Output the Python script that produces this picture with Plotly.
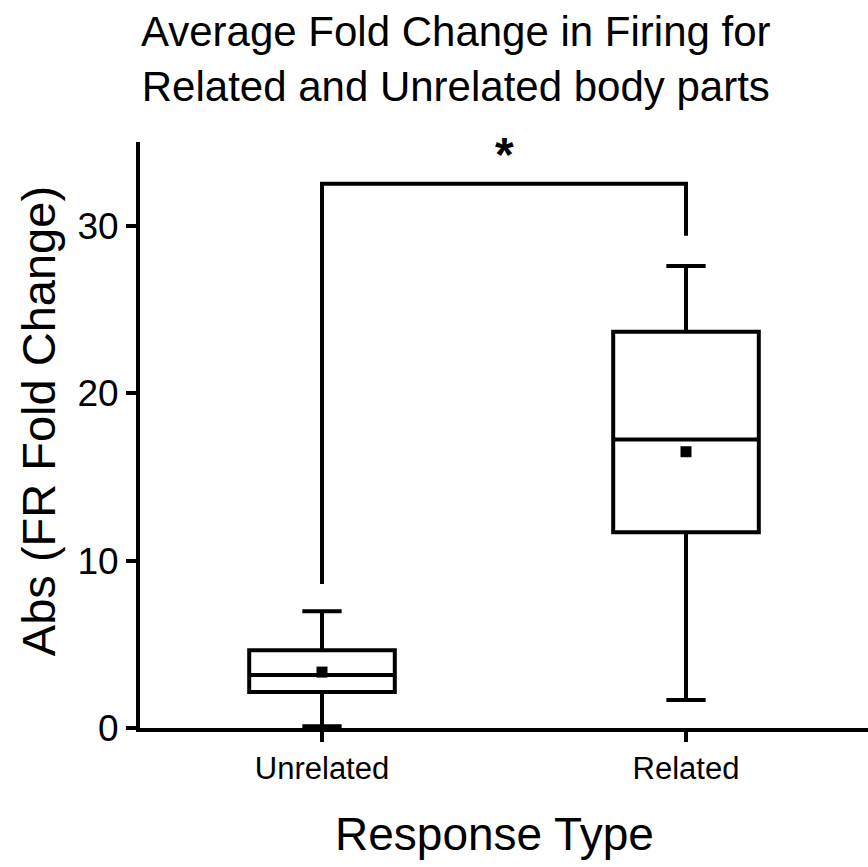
import plotly.graph_objects as go

# Summary statistics of |FR fold change| per response type
categories = ["Unrelated", "Related"]
q1_vals = [2.15, 11.69]
median_vals = [3.16, 17.23]
q3_vals = [4.65, 23.67]
lower_whisker = [0.1, 1.67]
upper_whisker = [6.98, 27.6]
mean_vals = [3.34, 16.5]

# Significance bracket between the two groups
bracket_x = ["Unrelated", "Unrelated", "Related", "Related"]
bracket_y = [8.6, 32.5, 32.5, 29.4]
star_y = 34.6

y_ticks = [0, 10, 20, 30]

FONT = "Liberation Sans, Arial, sans-serif"
INK = "black"
LW = 4

fig = go.Figure()

fig.add_trace(go.Box(
    x=categories,
    q1=q1_vals,
    median=median_vals,
    q3=q3_vals,
    lowerfence=lower_whisker,
    upperfence=upper_whisker,
    width=0.4,
    whiskerwidth=0.27,
    fillcolor="rgba(0,0,0,0)",
    line=dict(color=INK, width=LW),
    boxpoints=False,
    showlegend=False,
    hoverinfo="skip",
))

fig.add_trace(go.Scatter(
    x=categories,
    y=mean_vals,
    mode="markers",
    marker=dict(symbol="square", size=11, color=INK, line=dict(width=0)),
    showlegend=False,
    hoverinfo="skip",
))

fig.add_trace(go.Scatter(
    x=bracket_x,
    y=bracket_y,
    mode="lines",
    line=dict(color=INK, width=LW),
    showlegend=False,
    hoverinfo="skip",
    cliponaxis=False,
))

fig.add_annotation(
    x=0.5, y=star_y, xref="x", yref="y",
    text="<b>*</b>", showarrow=False,
    font=dict(family=FONT, size=48, color=INK),
    xanchor="center", yanchor="middle", yshift=-6,
)

# Two-line chart title
fig.add_annotation(
    x=(456 - 140) / 729, y=(728 - 59) / 586, xref="paper", yref="paper",
    text="Average Fold Change in Firing for<br>Related and Unrelated body parts",
    showarrow=False, align="center",
    font=dict(family=FONT, size=42, color=INK),
    xanchor="center", yanchor="middle",
)

# Axis titles
fig.add_annotation(
    x=(38 - 140) / 729, y=(728 - 421) / 586, xref="paper", yref="paper",
    text="Abs (FR Fold Change)", showarrow=False, textangle=-90,
    font=dict(family=FONT, size=47, color=INK),
    xanchor="center", yanchor="middle",
)
fig.add_annotation(
    x=(495 - 140) / 729, y=(728 - 834) / 586, xref="paper", yref="paper",
    text="Response Type", showarrow=False,
    font=dict(family=FONT, size=46, color=INK),
    xanchor="center", yanchor="middle",
)

fig.update_xaxes(
    type="category",
    categoryorder="array", categoryarray=categories,
    range=[-0.5, 1.5],
    showline=True, linecolor=INK, linewidth=LW,
    ticks="outside", ticklen=10, tickwidth=LW, tickcolor=INK,
    tickfont=dict(family=FONT, size=31, color=INK),
    showgrid=False, zeroline=False,
)
fig.update_yaxes(
    range=[0, 35],
    tickvals=y_ticks,
    showline=True, linecolor=INK, linewidth=LW,
    ticks="outside", ticklen=10, tickwidth=LW, tickcolor=INK,
    tickfont=dict(family=FONT, size=37, color=INK),
    showgrid=False, zeroline=False,
)

fig.update_layout(
    width=868, height=867,
    margin=dict(l=140, r=0, t=142, b=139),
    paper_bgcolor="white", plot_bgcolor="white",
    showlegend=False,
)

fig.write_html("out.html")
